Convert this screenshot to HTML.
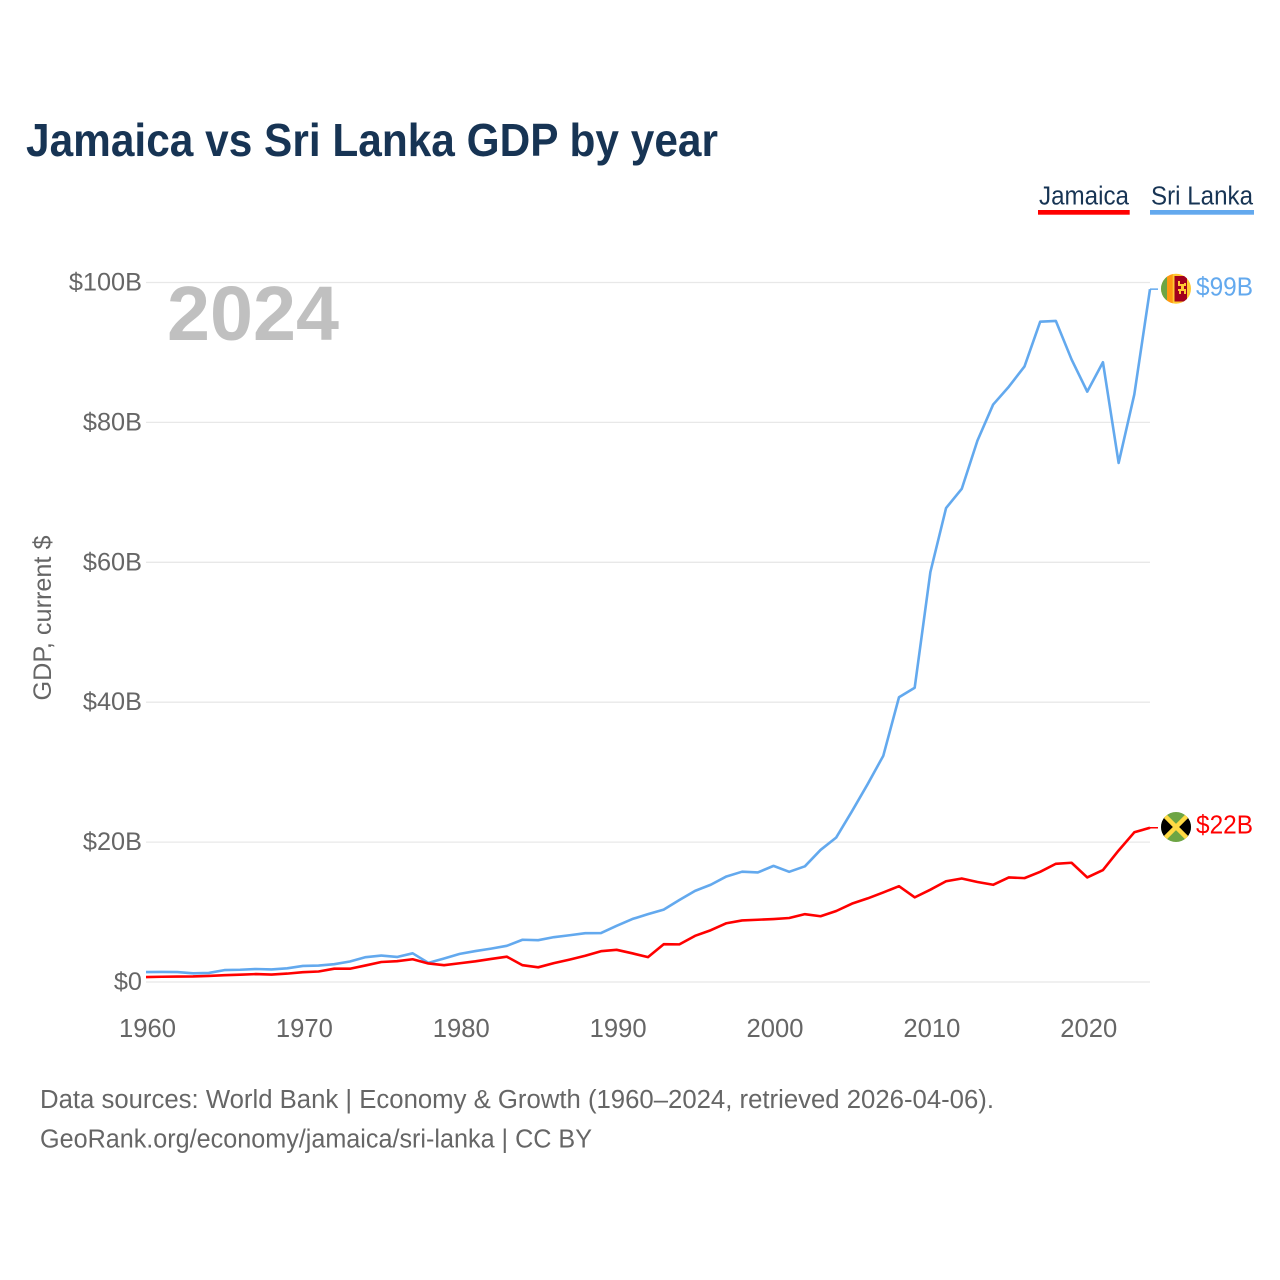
<!DOCTYPE html>
<html lang="en">
<head>
<meta charset="utf-8">
<title>Jamaica vs Sri Lanka GDP by year</title>
<style>
html,body{margin:0;padding:0;background:#fff;}
svg{display:block;}
text{font-family:"Liberation Sans",sans-serif;}
</style>
</head>
<body>
<svg id="chart" width="1280" height="1280" viewBox="0 0 1280 1280" xmlns="http://www.w3.org/2000/svg">
  <defs>
    <clipPath id="clip-lk"><circle cx="1176" cy="288.7" r="15"/></clipPath>
    <clipPath id="clip-jm"><circle cx="1176" cy="827" r="15"/></clipPath>
  </defs>
  <rect width="1280" height="1280" fill="#fff"/>
  <text x="26" y="156" font-size="46" font-weight="700" fill="#173454" textLength="692" lengthAdjust="spacingAndGlyphs">Jamaica vs Sri Lanka GDP by year</text>

  <g>
    <g>
      <text x="1039" y="204.5" font-size="25.5" fill="#173454" textLength="90" lengthAdjust="spacingAndGlyphs">Jamaica</text>
      <rect x="1038" y="210" width="91.7" height="4.7" fill="#ff0000"/>
    </g>
    <g>
      <text x="1151" y="204.5" font-size="25.5" fill="#173454" textLength="102" lengthAdjust="spacingAndGlyphs">Sri Lanka</text>
      <rect x="1150" y="210" width="104" height="4.7" fill="#63a9ee"/>
    </g>
  </g>

  <g id="grid"></g>
  <text x="167" y="340" font-size="77" font-weight="700" fill="#c0c0c0" textLength="172" lengthAdjust="spacingAndGlyphs">2024</text>
  <g id="y-ticks"></g>
  <g id="x-ticks"></g>
  <text transform="translate(51,618) rotate(-90)" text-anchor="middle" font-size="25" fill="#666" textLength="165" lengthAdjust="spacingAndGlyphs">GDP, current $</text>
  <g id="series"></g>

  <g clip-path="url(#clip-lk)">
    <rect x="1161" y="273" width="30" height="32" fill="#ffc933"/>
    <rect x="1161" y="273" width="6" height="32" fill="#6da544"/>
    <rect x="1167" y="273" width="5.7" height="32" fill="#ff9811"/>
    <rect x="1174.5" y="276" width="12.5" height="25.5" fill="#a2001d"/>
    <path d="M1178 281h2v3h4v-1h2v3h-2v3h2v5h-2v-3h-3v3h-2v-3h-1v-2h3v-3h-3z" fill="#ffc933"/>
  </g>
  <g clip-path="url(#clip-jm)">
    <rect x="1161" y="812" width="30" height="30" fill="#6da544"/>
    <path d="M1161 812l13 15-13 15zM1191 812l-13 15 13 15z" fill="#000"/>
    <path d="M1161 812L1191 842M1191 812L1161 842" stroke="#ffda44" stroke-width="4.5"/>
  </g>

  <text id="label-lk" x="1196" y="295.7" font-size="25.5" fill="#63a9ee" textLength="57" lengthAdjust="spacingAndGlyphs">$99B</text>
  <text id="label-jm" x="1196" y="833.7" font-size="25.5" fill="#ff0000" textLength="57" lengthAdjust="spacingAndGlyphs">$22B</text>

  <g>
    <text x="40" y="1108" font-size="25.5" fill="#666" textLength="954" lengthAdjust="spacingAndGlyphs">Data sources: World Bank | Economy &amp; Growth (1960–2024, retrieved 2026-04-06).</text>
    <text x="40" y="1147.5" font-size="25.5" fill="#666" textLength="552" lengthAdjust="spacingAndGlyphs">GeoRank.org/economy/jamaica/sri-lanka | CC BY</text>
  </g>
</svg>

<script>
const startYear = 1960;
const sriLankaValues = [1.42,1.44,1.42,1.24,1.30,1.70,1.75,1.86,1.80,1.96,2.30,2.35,2.55,2.93,3.55,3.78,3.58,4.10,2.73,3.36,4.02,4.42,4.77,5.17,6.04,5.98,6.41,6.68,6.98,6.99,8.03,9.00,9.70,10.35,11.72,13.03,13.90,15.09,15.77,15.66,16.60,15.75,16.54,18.88,20.66,24.40,28.28,32.35,40.71,42.07,58.60,67.75,70.50,77.40,82.55,85.10,88.00,94.40,94.50,89.00,84.40,88.60,74.20,84.00,99.05];
const jamaicaValues = [0.70,0.75,0.78,0.80,0.87,0.97,1.05,1.13,1.07,1.20,1.40,1.50,1.90,1.90,2.37,2.86,2.97,3.25,2.65,2.40,2.68,2.96,3.30,3.62,2.40,2.10,2.70,3.20,3.75,4.40,4.60,4.10,3.55,5.40,5.38,6.60,7.40,8.40,8.80,8.90,9.00,9.15,9.70,9.40,10.15,11.20,11.95,12.80,13.70,12.10,13.20,14.40,14.80,14.30,13.90,14.95,14.85,15.75,16.90,17.05,14.95,16.00,18.80,21.40,22.05];
const yTickValues = [0,20,40,60,80,100];
const yTickLabels = ["$0","$20B","$40B","$60B","$80B","$100B"];
const xTickValues = [1960,1970,1980,1990,2000,2010,2020];

const NS = "http://www.w3.org/2000/svg";
const xScale = function (year) { return 146 + (year - 1960) * (1150 - 146) / 64; };
const yScale = function (v) { return 982 - v * 6.995; };

const gridGroup = document.getElementById("grid");
const yGroup = document.getElementById("y-ticks");
const xGroup = document.getElementById("x-ticks");
const seriesGroup = document.getElementById("series");

yTickValues.forEach(function (v, i) {
  const line = document.createElementNS(NS, "line");
  line.setAttribute("x1", xScale(1960));
  line.setAttribute("x2", xScale(2024));
  line.setAttribute("y1", yScale(v));
  line.setAttribute("y2", yScale(v));
  line.setAttribute("stroke", "#e8e8e8");
  line.setAttribute("stroke-width", "1.3");
  
  
  gridGroup.appendChild(line);

  const t = document.createElementNS(NS, "text");
  t.setAttribute("x", 142);
  t.setAttribute("y", yScale(v) + 8);
  t.setAttribute("text-anchor", "end");
  t.setAttribute("font-size", "25.3");
  t.setAttribute("fill", "#666");
  t.textContent = yTickLabels[i];
  
  
  yGroup.appendChild(t);
});

xTickValues.forEach(function (year) {
  const t = document.createElementNS(NS, "text");
  t.setAttribute("x", xScale(year) + 1.5);
  t.setAttribute("y", 1037);
  t.setAttribute("text-anchor", "middle");
  t.setAttribute("font-size", "25.6");
  t.setAttribute("fill", "#666");
  t.textContent = String(year);
  
  
  xGroup.appendChild(t);
});

function drawSeries(values, color) {
  const pts = values.map(function (v, i) {
    return xScale(startYear + i).toFixed(2) + "," + yScale(v).toFixed(2);
  });
  const last = values[values.length - 1];
  const path = document.createElementNS(NS, "polyline");
  path.setAttribute("points", pts.join(" "));
  path.setAttribute("fill", "none");
  path.setAttribute("stroke", color);
  path.setAttribute("stroke-width", "2.6");
  path.setAttribute("stroke-linejoin", "round");
  
  
  seriesGroup.appendChild(path);

  const conn = document.createElementNS(NS, "line");
  conn.setAttribute("x1", xScale(2024));
  conn.setAttribute("x2", xScale(2024) + 8);
  conn.setAttribute("y1", yScale(last));
  conn.setAttribute("y2", yScale(last));
  conn.setAttribute("stroke", color);
  conn.setAttribute("stroke-width", "1.5");
  
  
  seriesGroup.appendChild(conn);
}

drawSeries(sriLankaValues, "#63a9ee");
drawSeries(jamaicaValues, "#ff0000");
</script>
</body>
</html>
